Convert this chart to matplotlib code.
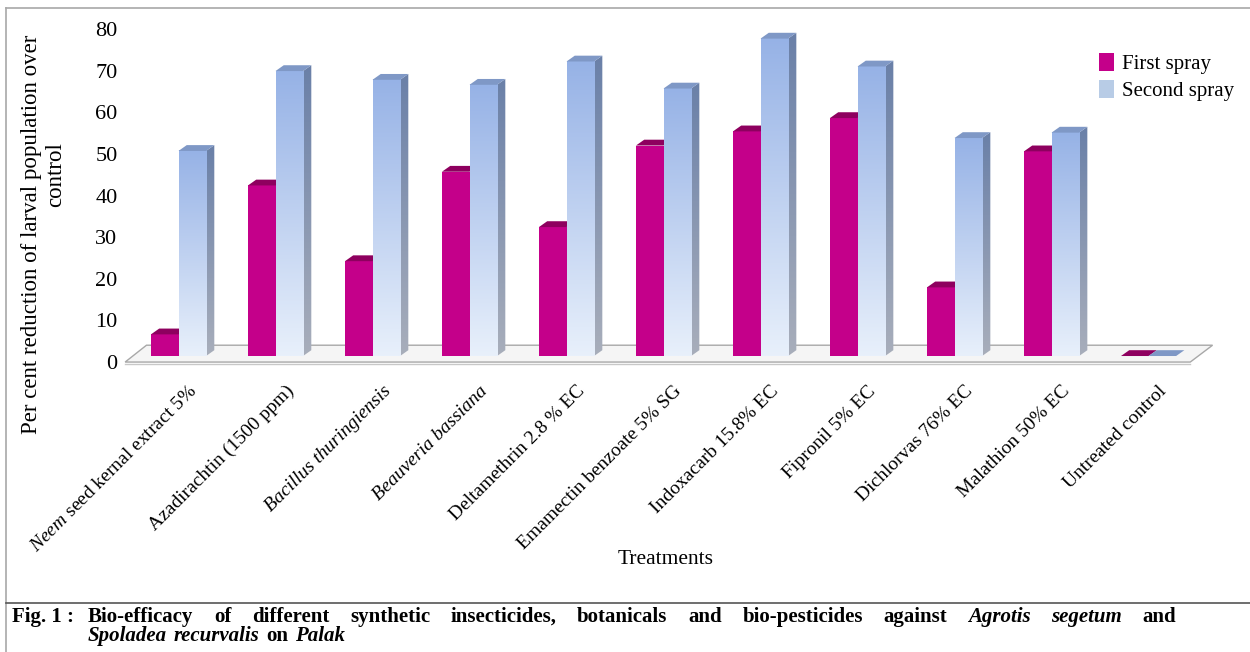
import matplotlib.pyplot as plt
import matplotlib.transforms as mtransforms
from matplotlib.patches import Polygon, Rectangle, Patch
from matplotlib.colors import LinearSegmentedColormap
from matplotlib.lines import Line2D
import numpy as np

plt.rcParams['font.family'] = ['Liberation Serif', 'DejaVu Serif']
plt.rcParams['mathtext.fontset'] = 'custom'
plt.rcParams['mathtext.rm'] = 'Liberation Serif'
plt.rcParams['mathtext.it'] = 'Liberation Serif:italic'

# data
treatments = [r'$\it{Neem}$ seed kernal extract 5%', 'Azadirachtin (1500 ppm)',
              'Bacillus thuringiensis', 'Beauveria bassiana',
              'Deltamethrin 2.8 % EC', 'Emamectin benzoate 5% SG',
              'Indoxacarb 15.8% EC', 'Fipronil 5% EC', 'Dichlorvas 76% EC',
              'Malathion 50% EC', 'Untreated control']
italic_labels = ['Bacillus thuringiensis', 'Beauveria bassiana']
first_spray = [5.2, 41.0, 22.8, 44.3, 31.0, 50.6, 54.0, 57.2, 16.5, 49.2, 0.0]
second_spray = [49.3, 68.5, 66.4, 65.2, 70.8, 64.3, 76.3, 69.6, 52.4, 53.7, 0.0]
yticks = [0, 10, 20, 30, 40, 50, 60, 70, 80]

magenta = '#c4008a'
magenta_top = '#8e005f'
blue_top = '#7f98c6'
front_cmap = LinearSegmentedColormap.from_list('front', ['#e8f0fb', '#96b2e6'])
side_cmap = LinearSegmentedColormap.from_list('side', ['#a8aebb', '#6a80a8'])

fig = plt.figure(figsize=(12.5, 6.52), dpi=100)
ax = fig.add_axes([120.3 / 1250, 1 - 368.5 / 652, 1101 / 1250, 353.6 / 652])

w = 0.284      # bar width (front face)
ddx = 0.085    # depth offset in x
ddy = 1.4      # depth offset in y

# floor slab
floor = Polygon([(-0.55, -1.45), (10.43, -1.45), (10.66, 2.6), (-0.33, 2.6)],
                closed=True, facecolor='#f5f5f5', edgecolor='#a8a8a8', lw=1.0, zorder=1)
ax.add_patch(floor)
ax.plot([-0.55, 10.43], [-1.9, -1.9], color='#c8c8c8', lw=1.0, zorder=0.9)

grad = np.linspace(0, 1, 256).reshape(-1, 1)

def bar3d(x0, h, kind, z):
    x1 = x0 + w
    side = Polygon([(x1, 0), (x1 + ddx, ddy), (x1 + ddx, h + ddy), (x1, h)], closed=True,
                   facecolor='none', edgecolor='none')
    top = Polygon([(x0, h), (x0 + ddx, h + ddy), (x1 + ddx, h + ddy), (x1, h)], closed=True,
                  lw=0, zorder=z + 0.2)
    if kind == 'first':
        ax.add_patch(Rectangle((x0, 0), w, h, facecolor=magenta, edgecolor='none', zorder=z + 0.1))
        top.set_facecolor(magenta_top)
        ax.add_patch(top)
    else:
        if h > 0:
            ax.imshow(grad, extent=[x0, x1, 0, h], origin='lower', aspect='auto',
                      cmap=front_cmap, zorder=z + 0.1, interpolation='bilinear')
            ax.add_patch(side)
            im = ax.imshow(grad, extent=[x1, x1 + ddx, 0, h + ddy], origin='lower',
                           aspect='auto', cmap=side_cmap, zorder=z, interpolation='bilinear')
            im.set_clip_path(side)
        top.set_facecolor(blue_top)
        ax.add_patch(top)

for i in range(len(treatments)):
    bar3d(i - w, first_spray[i], 'first', 2 + i)
    bar3d(i, second_spray[i], 'second', 2.5 + i)

ax.set_xlim(-0.6, 10.75)
ax.set_ylim(-3, 82)
for s in ax.spines.values():
    s.set_visible(False)
ax.patch.set_alpha(0)

ax.set_yticks(yticks)
ax.tick_params(axis='y', length=0, pad=2, labelsize=16)
shift = mtransforms.ScaledTranslation(0, -6 / 100, fig.dpi_scale_trans)
for lab in ax.get_yticklabels():
    lab.set_transform(lab.get_transform() + shift)

ax.set_xticks(np.arange(len(treatments)) + 0.1)
ax.set_xticklabels(treatments, rotation=45, ha='right', rotation_mode='anchor', fontsize=14)
ax.tick_params(axis='x', length=0, pad=10)
for lab in ax.get_xticklabels():
    if lab.get_text() in italic_labels:
        lab.set_fontstyle('italic')

fig.text(32 / 1250, 1 - 234 / 652, 'Per cent reduction of larval population over',
         rotation=90, ha='center', va='center', fontsize=16.5)
fig.text(56 / 1250, 1 - 175 / 652, 'control', rotation=90, ha='center', va='center', fontsize=16.5)
fig.text(666 / 1250, 1 - 560 / 652, 'Treatments', ha='center', va='center', fontsize=15.5)

handles = [Patch(facecolor=magenta, edgecolor='none'), Patch(facecolor='#b8cce6', edgecolor='none')]
fig.legend(handles, ['First spray', 'Second spray'], loc='upper left',
           bbox_to_anchor=(1080 / 1250, 1 - 34 / 652), frameon=False, fontsize=15,
           handlelength=0.75, handleheight=0.95, handletextpad=0.35, labelspacing=0.3)

# frame and caption
fig.add_artist(Line2D([6 / 1250, 1], [1 - 8 / 652] * 2, color='#a8a8a8', lw=1.2))
fig.add_artist(Line2D([6 / 1250] * 2, [0, 1 - 8 / 652], color='#a8a8a8', lw=1.2))
fig.add_artist(Line2D([6 / 1250, 1], [1 - 603 / 652] * 2, color='#555555', lw=1.2))

fig.canvas.draw()
renderer = fig.canvas.get_renderer()

def write_line(x_px, y_px, parts, fs, right_px=None):
    # parts: list of (word, style); words laid out one after the other
    texts = []
    for word, style in parts:
        t = fig.text(0, 1 - y_px / 652, word, fontsize=fs, fontweight='bold',
                     fontstyle=style, va='baseline')
        texts.append(t)
    widths = [t.get_window_extent(renderer).width for t in texts]
    space = fs * 0.45
    if right_px is not None and len(texts) > 1:
        space = (right_px - x_px - sum(widths)) / (len(texts) - 1)
    x = x_px
    for t, wd in zip(texts, widths):
        t.set_x(x / 1250)
        x += wd + space

fig.text(12 / 1250, 1 - 622 / 652, 'Fig. 1 :', fontsize=15, fontweight='bold', va='baseline')
line1 = [(w_, 'normal') for w_ in 'Bio-efficacy of different synthetic insecticides, botanicals and bio-pesticides against'.split()]
line1 += [('Agrotis', 'italic'), ('segetum', 'italic'), ('and', 'normal')]
write_line(88, 622, line1, 15, right_px=1176)
line2 = [('Spoladea', 'italic'), ('recurvalis', 'italic'), ('on', 'normal'), ('Palak', 'italic')]
write_line(88, 641, line2, 15)

fig.savefig('out.png', dpi=100, facecolor='white')
